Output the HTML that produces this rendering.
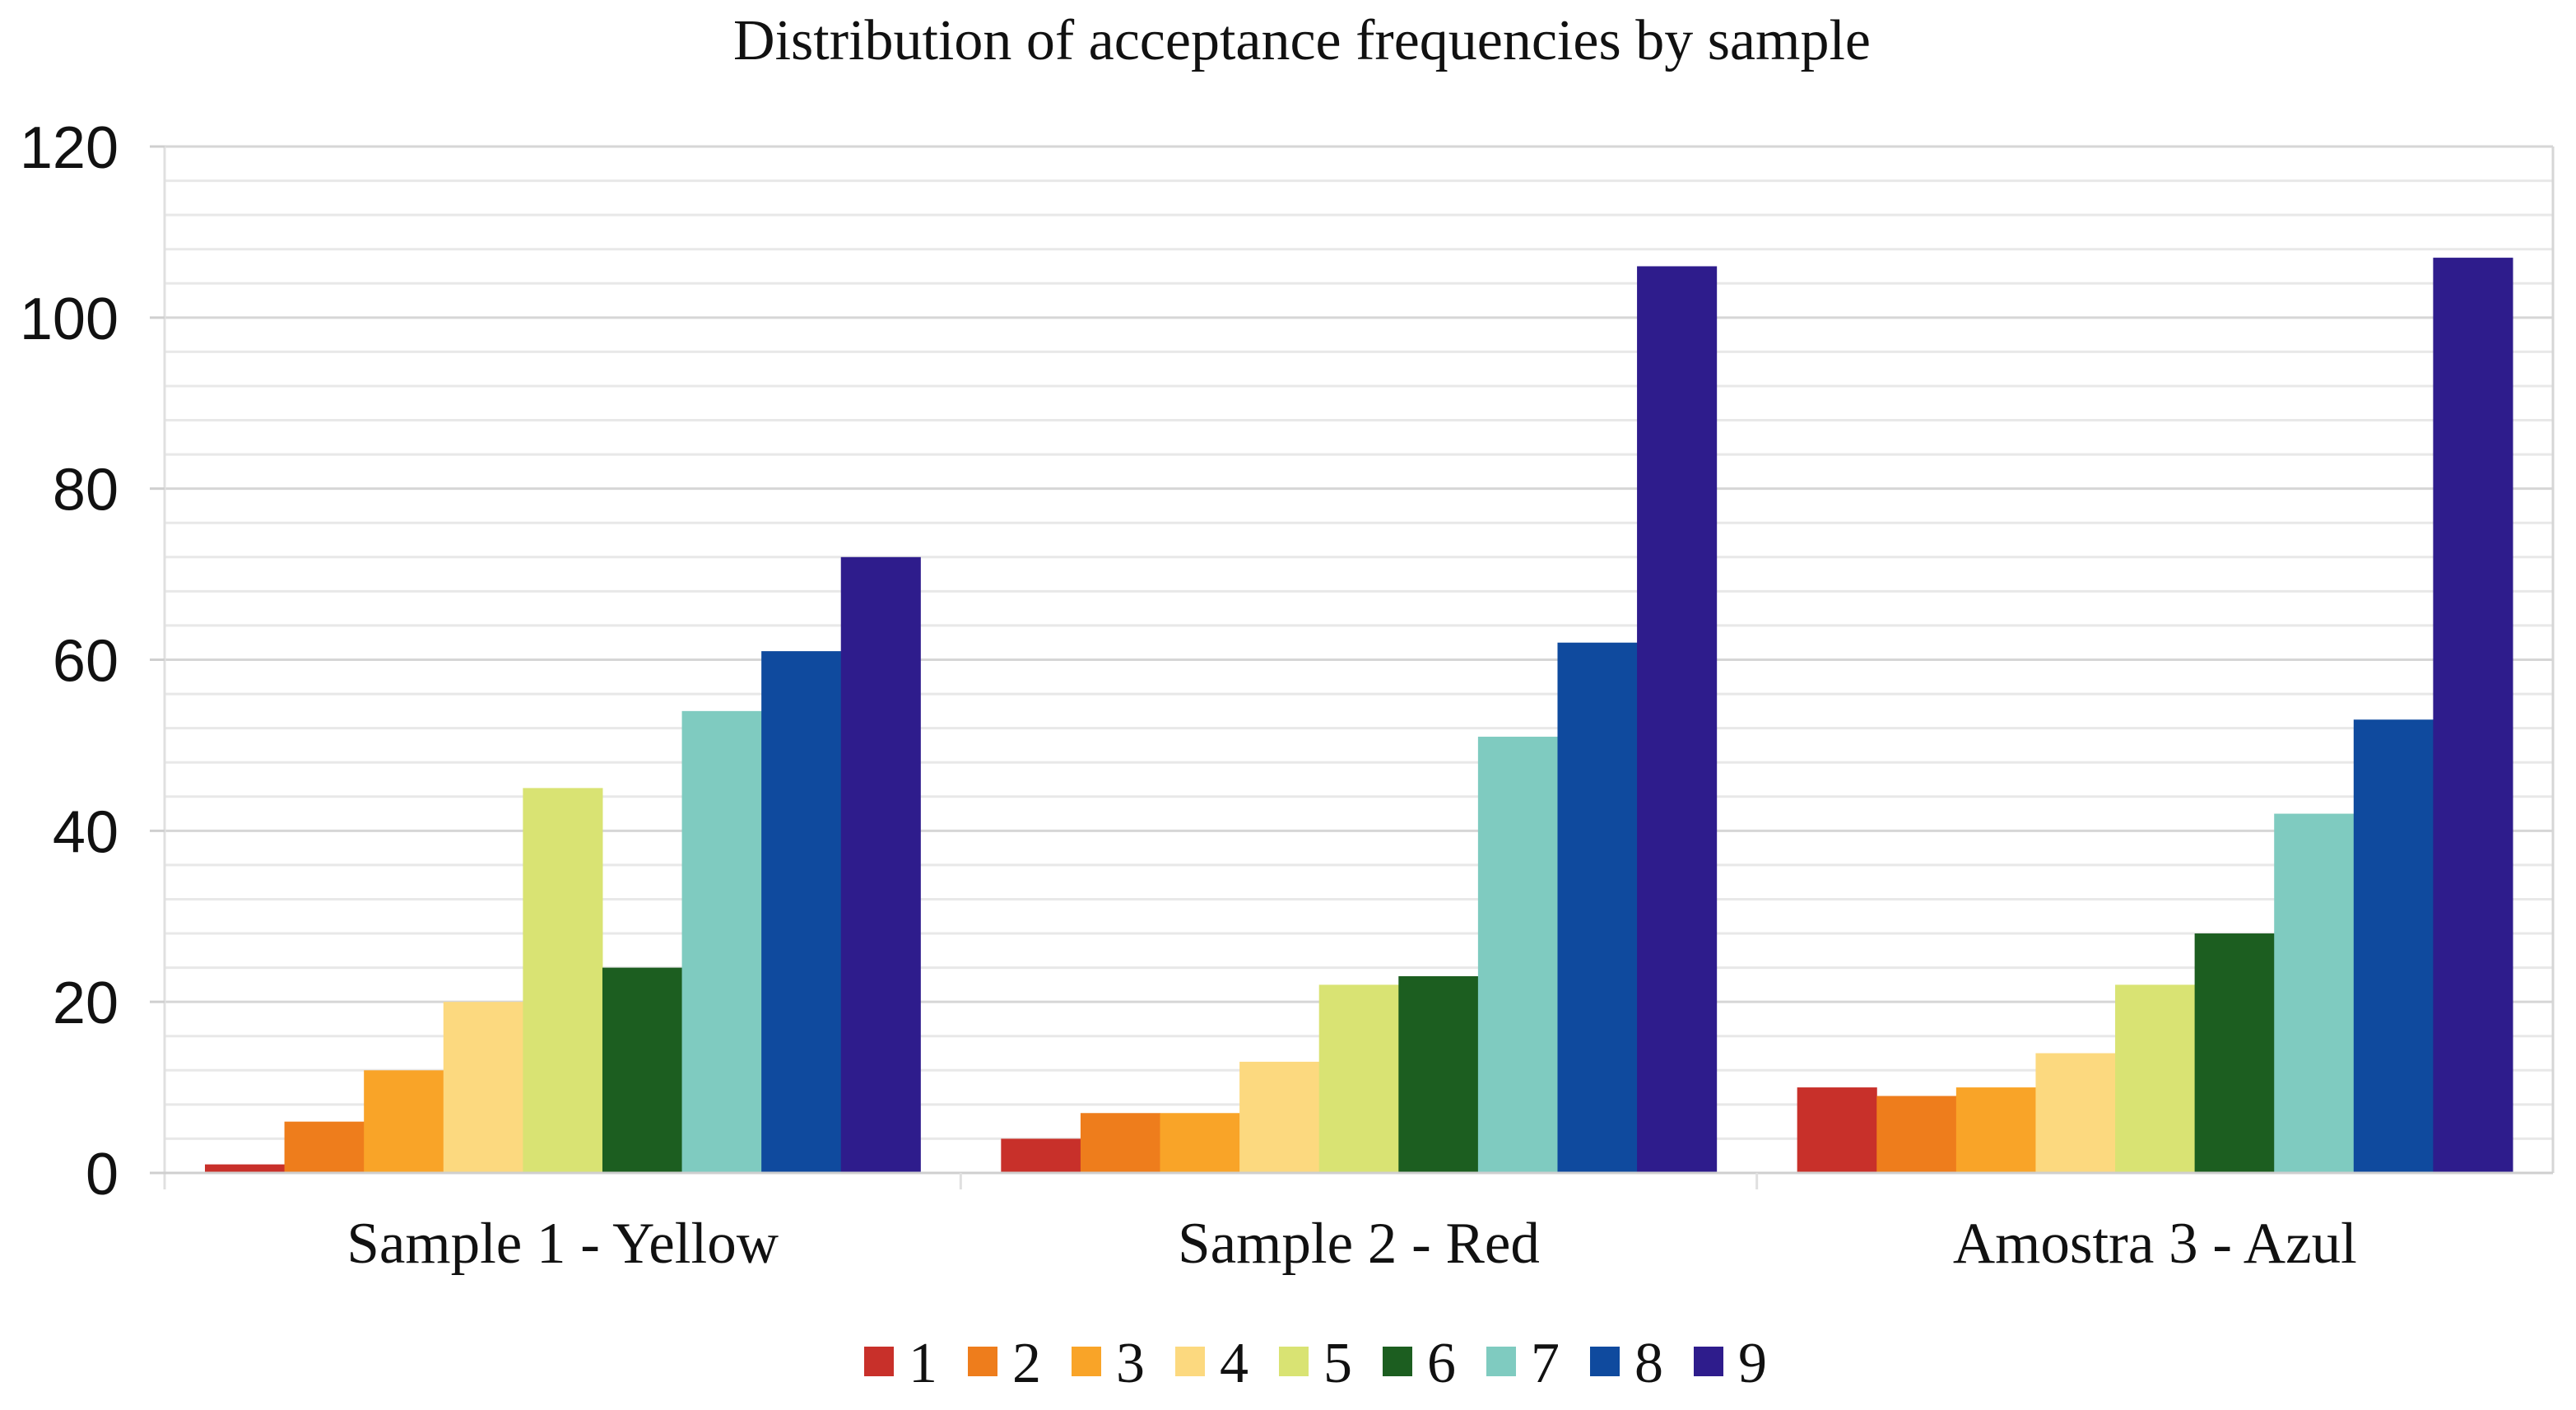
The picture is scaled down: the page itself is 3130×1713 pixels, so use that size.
<!DOCTYPE html>
<html><head><meta charset="utf-8"><style>
html,body{margin:0;padding:0;background:#fff;}
svg{display:block;}
</style></head><body>
<svg id="chart" xmlns="http://www.w3.org/2000/svg" width="3130" height="1713" viewBox="0 0 3130 1713">
<rect x="0" y="0" width="3130" height="1713" fill="#fff"/>
<text x="1582" y="72" text-anchor="middle" font-family="Liberation Serif, serif" font-size="70" fill="#111">Distribution of acceptance frequencies by sample</text>
<g id="grid"></g><g id="bars"></g><g id="axes"></g><g id="legend"></g>
</svg>
<script>
const categories = ["Sample 1 - Yellow", "Sample 2 - Red", "Amostra 3 - Azul"];
const seriesNames = ["1","2","3","4","5","6","7","8","9"];
const s1 = [1, 4, 10];
const s2 = [6, 7, 9];
const s3 = [12, 7, 10];
const s4 = [20, 13, 14];
const s5 = [45, 22, 22];
const s6 = [24, 23, 28];
const s7 = [54, 51, 42];
const s8 = [61, 62, 53];
const s9 = [72, 106, 107];
const seriesValues = [s1, s2, s3, s4, s5, s6, s7, s8, s9];
const colors = ["#c8302a","#ee7d1c","#f9a428","#fcd97f","#d9e373","#1c5e20","#7fcbc0","#0f4a9e","#2e1c8c"];
const yTicks = [0, 20, 40, 60, 80, 100, 120];
const yMax = 120, minorStep = 4;

const NS = "http://www.w3.org/2000/svg";
const L = 200, R = 3102, T = 178, B = 1425;
const gw = (R - L) / categories.length;
const pad = 49;
const bw = (gw - 2 * pad) / seriesNames.length;
function y(v){ return B - (v / yMax) * (B - T); }
function x(ci, si){ return L + ci * gw + pad + si * bw; }
function mk(tag, attrs, parent){
  const e = document.createElementNS(NS, tag);
  for (const k in attrs) e.setAttribute(k, attrs[k]);
  parent.appendChild(e); return e;
}
const grid = document.getElementById('grid');
for (let v = 0; v <= yMax; v += minorStep){
  const ln = mk('line', {x1: L, x2: R, y1: y(v), y2: y(v), stroke: v % 20 === 0 ? '#d6d6d6' : '#e8e8e8', 'stroke-width': 3}, grid);
  
  
}
const bars = document.getElementById('bars');
seriesValues.forEach((vals, si) => {
  vals.forEach((v, ci) => {
    const r = mk('rect', {x: x(ci, si), y: y(v), width: bw + 0.5, height: B - y(v), fill: colors[si]}, bars);
    
    
  });
});
const axes = document.getElementById('axes');
mk('line', {x1: L, x2: L, y1: T, y2: B + 20, stroke: '#e0e0e0', 'stroke-width': 3}, axes);
mk('line', {x1: R, x2: R, y1: T, y2: B, stroke: '#d6d6d6', 'stroke-width': 3}, axes);
mk('line', {x1: L - 18, x2: R, y1: B, y2: B, stroke: '#cfcfcf', 'stroke-width': 3}, axes);
for (let i = 1; i < categories.length; i++){
  mk('line', {x1: L + i * gw, x2: L + i * gw, y1: B, y2: B + 20, stroke: '#e0e0e0', 'stroke-width': 3}, axes);
}
yTicks.forEach(v => {
  mk('line', {x1: L - 18, x2: L, y1: y(v), y2: y(v), stroke: '#cfcfcf', 'stroke-width': 3}, axes);
  const t = mk('text', {x: 144, y: y(v) + 26, 'text-anchor': 'end', 'font-family': 'Liberation Sans, sans-serif', 'font-size': 72, fill: '#111'}, axes);
  t.textContent = v;
  
  
});
categories.forEach((c, ci) => {
  const t = mk('text', {x: L + (ci + 0.5) * gw, y: 1534, 'text-anchor': 'middle', 'font-family': 'Liberation Serif, serif', 'font-size': 71, fill: '#111'}, axes);
  t.textContent = c;
  
  
});
const legend = document.getElementById('legend');
seriesNames.forEach((n, i) => {
  const g = mk('g', {}, legend);
  
  
  const lx = 1050 + i * 126;
  mk('rect', {x: lx, y: 1636, width: 36, height: 36, fill: colors[i]}, g);
  const t = mk('text', {x: lx + 54, y: 1679, 'font-family': 'Liberation Serif, serif', 'font-size': 70, fill: '#111'}, g);
  t.textContent = n;
});
</script>
</body></html>
